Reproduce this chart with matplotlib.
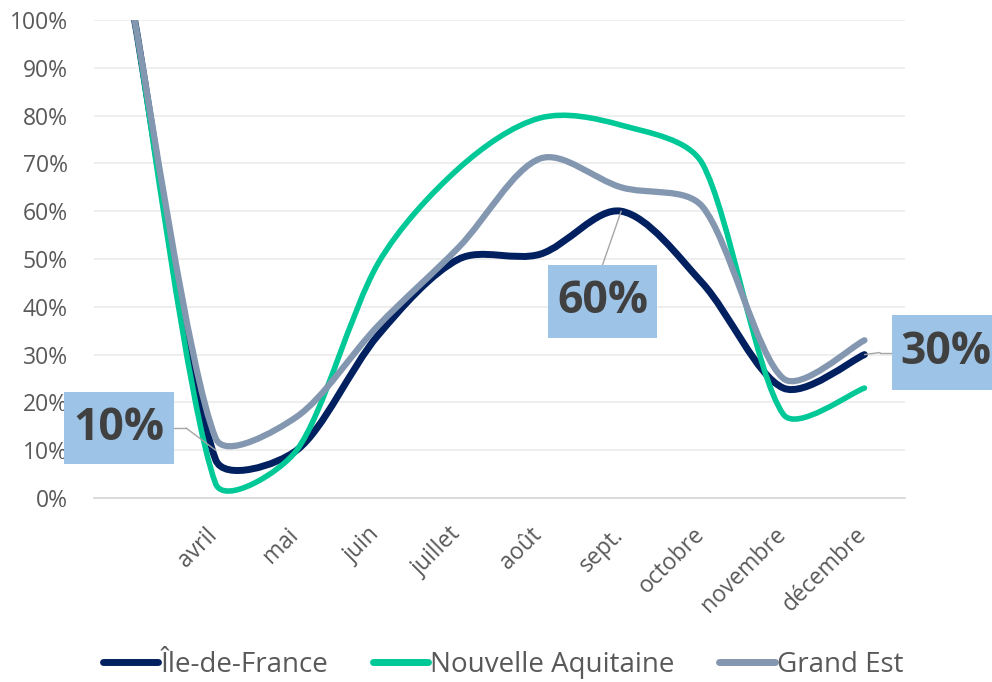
import numpy as np
import matplotlib
matplotlib.use('Agg')
import matplotlib.pyplot as plt
import matplotlib.transforms as mtransforms
from matplotlib.path import Path
from matplotlib.patches import PathPatch, Rectangle
from matplotlib.lines import Line2D

plt.rcParams['font.family'] = ['Open Sans', 'DejaVu Sans']

# données (en %)
mois = ['', 'avril', 'mai', 'juin', 'juillet', 'août', 'sept.', 'octobre', 'novembre', 'décembre']
idf = [100, 8, 10, 34, 50, 51, 60, 45, 23, 30]
nouvelle_aquitaine = [100, 3, 10, 49, 69, 79.5, 78, 70, 17.5, 23]
grand_est = [100, 12.5, 17, 36, 52.5, 71, 65, 61, 25, 33]

series = [
    ('Île-de-France', idf, '#002060', 5.0),
    ('Nouvelle Aquitaine', nouvelle_aquitaine, '#00C896', 4.0),
    ('Grand Est', grand_est, '#8497B0', 4.5),
]

# étiquettes : (texte, index du mois, valeur pointée, boîte en pixels x0, y0, x1, y1)
etiquettes = [
    ('10%', 1, 10, (64, 392, 174, 464)),
    ('60%', 6, 60, (548, 265, 657, 338)),
    ('30%', 9, 30, (892, 315, 1000, 390)),
]

W, H = 992, 682
fig = plt.figure(figsize=(W / 100, H / 100), dpi=100)
ax = fig.add_axes([94 / W, 1 - 498 / H, (905 - 94) / W, (498 - 20) / H])
ax.set_xlim(-0.5, len(mois) - 0.5)
ax.set_ylim(0, 100)

# échelle en pixels pour le lissage type Excel
sx = (905 - 94) / len(mois)
sy = (498 - 20) / 100


def courbe_lissee(xs, ys):
    """Bezier cubique passant par les points (lissage façon Excel)"""
    px = np.asarray(xs, float) * sx
    py = np.asarray(ys, float) * sy
    n = len(px)
    verts = [(xs[0], ys[0])]
    codes = [Path.MOVETO]
    for i in range(n - 1):
        i0 = max(i - 1, 0)
        i3 = min(i + 2, n - 1)
        l_prev = np.hypot(px[i] - px[i0], py[i] - py[i0])
        l_cur = np.hypot(px[i + 1] - px[i], py[i + 1] - py[i])
        l_next = np.hypot(px[i3] - px[i + 1], py[i3] - py[i + 1])
        f1 = min(1 / 6, l_cur / (l_prev + l_cur) / 3)
        f2 = min(1 / 6, l_cur / (l_cur + l_next) / 3)
        c1 = (px[i] + (px[i + 1] - px[i0]) * f1, py[i] + (py[i + 1] - py[i0]) * f1)
        c2 = (px[i + 1] - (px[i3] - px[i]) * f2, py[i + 1] - (py[i3] - py[i]) * f2)
        verts += [(c1[0] / sx, c1[1] / sy), (c2[0] / sx, c2[1] / sy), (xs[i + 1], ys[i + 1])]
        codes += [Path.CURVE4] * 3
    return Path(verts, codes)


x = np.arange(len(mois))
for nom, vals, couleur, lw in series:
    patch = PathPatch(courbe_lissee(x, vals), fc='none', ec=couleur, lw=lw,
                      capstyle='round', joinstyle='round', zorder=3)
    ax.add_patch(patch)

# grille et axes
ax.set_yticks(np.arange(0, 101, 10))
ax.set_yticklabels([f'{v}%' for v in range(0, 101, 10)])
ax.grid(axis='y', color='#EDEDED', lw=1.3)
ax.set_axisbelow(True)
for s in ['top', 'right', 'left']:
    ax.spines[s].set_visible(False)
ax.spines['bottom'].set_color('#D9D9D9')
ax.spines['bottom'].set_linewidth(1.3)
ax.tick_params(axis='y', length=0, pad=19, labelsize=16.5, labelcolor='#595959')
ax.set_xticks(x)
ax.set_xticklabels(mois, rotation=45, ha='right', va='top')
ax.tick_params(axis='x', length=0, pad=18, labelsize=16.5, labelcolor='#595959')
decalage = mtransforms.ScaledTranslation(7 / 100, 0, fig.dpi_scale_trans)
for lab in ax.get_xticklabels():
    lab.set_transform(lab.get_transform() + decalage)

# étiquettes de données avec lignes de rappel
for texte, idx, val, (x0, y0, x1, y1) in etiquettes:
    rect = Rectangle((x0 / W, 1 - y1 / H), (x1 - x0) / W, (y1 - y0) / H,
                     transform=fig.transFigure, fc='#9DC3E6', ec='none', zorder=5)
    fig.add_artist(rect)
    cx = (x0 + min(x1, x0 + 109)) / 2
    fig.text(cx / W, 1 - (y0 + y1) / 2 / H, texte, ha='center', va='center',
             fontsize=32, fontweight='bold', color='#404040', zorder=6)
    # ligne de rappel depuis le bord de la boîte
    if idx == 6:
        depart = ((x0 + x1) / 2, y0)
        ax.annotate('', xy=(idx, val), xytext=(depart[0], H - depart[1]),
                    textcoords='figure pixels',
                    arrowprops=dict(arrowstyle='-', color='#A6A6A6', lw=1,
                                    shrinkA=0, shrinkB=0), zorder=4)
    else:
        if idx == 1:
            bord, coude = x1, x1 + 12
        else:
            bord, coude = x0, x0 - 12
        ym = (y0 + y1) / 2
        fig.add_artist(Line2D([bord / W, coude / W], [1 - ym / H, 1 - ym / H],
                              transform=fig.transFigure, color='#A6A6A6', lw=1))
        ax.annotate('', xy=(idx, val), xytext=(coude, H - ym),
                    textcoords='figure pixels',
                    arrowprops=dict(arrowstyle='-', color='#A6A6A6', lw=1,
                                    shrinkA=0, shrinkB=0), zorder=4)

# légende
handles = [Line2D([0], [0], color=c, lw=5, solid_capstyle='round') for _, _, c, _ in series]
fig.legend(handles, [s[0] for s in series], loc='center', ncol=3,
           bbox_to_anchor=(503 / W, 1 - 665 / H), frameon=False,
           prop={'size': 20}, labelcolor='#595959',
           handlelength=2.0, handletextpad=0.08, columnspacing=1.6)

fig.savefig('out.png', dpi=100)
